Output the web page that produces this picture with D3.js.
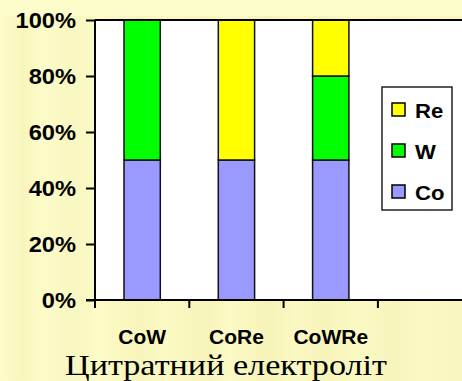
<!DOCTYPE html>
<html>
<head>
<meta charset="utf-8">
<script src="https://cdn.jsdelivr.net/npm/d3@7"></script>
<style>
  html, body { margin: 0; padding: 0; background: #fcfac4; }
  svg { display: block; }
</style>
</head>
<body>
<script>
// Composition of deposited alloys (atomic share, %)
const categories = ["CoW", "CoRe", "CoWRe"];
const elements = ["Co", "W", "Re"];
const coValues = [50, 50, 50];
const wValues = [50, 0, 30];
const reValues = [0, 50, 20];
const yTicks = [0, 20, 40, 60, 80, 100];
const groupLabel = "Цитратний електроліт";
const colors = { Co: "#9999ff", W: "#00ff00", Re: "#ffff00" };

const W = 462, H = 381;
const margin = { left: 95, top: 20, bottom: 300 };
const bandStep = 94.3;
const sansBold = "'Liberation Sans', Arial, sans-serif";

const svg = d3.select("body").append("svg")
  .attr("width", W).attr("height", H);

// textured pale-yellow backdrop with faint vertical streaks
const defs = svg.append("defs");
const grad = defs.append("linearGradient").attr("id", "bgStreaks")
  .attr("x1", 0).attr("x2", 1).attr("y1", 0).attr("y2", 0);
const streakStops = [
  [0, "#fdfbc8"], [0.05, "#f8f6bd"], [0.09, "#fdfbc8"], [0.16, "#f9f7c0"],
  [0.22, "#fdfbc6"], [0.3, "#f7f5bb"], [0.36, "#fcfac3"], [0.45, "#f6f4ba"],
  [0.5, "#fcfac5"], [0.58, "#f5f3b8"], [0.64, "#fbf9c2"], [0.7, "#f6f4b9"],
  [0.78, "#fcfac4"], [0.85, "#f7f5bc"], [0.92, "#fbf9c3"], [1, "#f8f6be"]
];
streakStops.forEach(([o, c]) => grad.append("stop").attr("offset", o).attr("stop-color", c));
svg.append("rect").attr("width", W).attr("height", H).attr("fill", "url(#bgStreaks)");
svg.append("rect").attr("width", W).attr("height", 16).attr("fill", "#fdfccb");

const x = d3.scaleBand()
  .domain(categories)
  .range([margin.left, margin.left + bandStep * categories.length])
  .padding(0);
const y = d3.scaleLinear().domain([0, 100]).range([margin.bottom, margin.top]);

// plot area
svg.append("rect")
  .attr("x", margin.left).attr("y", margin.top)
  .attr("width", W - margin.left + 5).attr("height", margin.bottom - margin.top)
  .attr("fill", "#ffffff");

// stacked bars
const rows = categories.map((c, i) => ({ cat: c, Co: coValues[i], W: wValues[i], Re: reValues[i] }));
const stacked = d3.stack().keys(elements)(rows);
const barW = x.bandwidth() * 0.385;

svg.append("g").selectAll("g").data(stacked).join("g")
  .attr("fill", d => colors[d.key])
  .selectAll("rect").data(d => d.filter(s => s[1] - s[0] > 0)).join("rect")
  .attr("x", d => x(d.data.cat) + (x.bandwidth() - barW) / 2)
  .attr("y", d => y(d[1]))
  .attr("width", barW)
  .attr("height", d => y(d[0]) - y(d[1]))
  .attr("stroke", "#111")
  .attr("stroke-width", 1.5);

// plot frame (top edge)
svg.append("line")
  .attr("x1", margin.left).attr("x2", W + 5)
  .attr("y1", margin.top).attr("y2", margin.top)
  .attr("stroke", "#000").attr("stroke-width", 2);

// y axis
const yAxis = d3.axisLeft(y).tickValues(yTicks).tickFormat(d => d + "%").tickSize(9).tickPadding(9);
const gy = svg.append("g").attr("transform", `translate(${margin.left},0)`).call(yAxis);
gy.select(".domain").attr("stroke-width", 2).attr("d", `M0,${margin.top}V${margin.bottom + 8}`);
gy.selectAll(".tick line").attr("stroke-width", 2);
gy.selectAll("text")
  .attr("font-family", sansBold)
  .attr("font-weight", "bold").attr("font-size", 21.5).attr("fill", "#000")
  .attr("x", 0)
  .attr("dy", "0.36em")
  .attr("transform", "translate(-19,0) scale(1.1,1)");

// x axis: ticks sit on category boundaries
const bounds = d3.range(categories.length + 2).map(i => margin.left + i * bandStep);
const gx = svg.append("g");
gx.append("line")
  .attr("x1", margin.left - 9).attr("x2", W + 5)
  .attr("y1", margin.bottom).attr("y2", margin.bottom)
  .attr("stroke", "#000").attr("stroke-width", 2);
gx.selectAll("line.tick").data(bounds).join("line").attr("class", "tick")
  .attr("x1", d => d).attr("x2", d => d)
  .attr("y1", margin.bottom).attr("y2", margin.bottom + 8)
  .attr("stroke", "#000").attr("stroke-width", 2);
gx.selectAll("text").data(categories).join("text")
  .attr("transform", d => `translate(${x(d) + x.bandwidth() / 2},344) scale(1.05,1)`)
  .attr("text-anchor", "middle")
  .attr("font-family", sansBold)
  .attr("font-weight", "bold").attr("font-size", 20)
  .text(d => d);

// group caption
svg.append("text")
  .attr("x", 65).attr("y", 375)
  .attr("font-family", "'Liberation Serif', 'Times New Roman', serif")
  .attr("font-size", 30)
  .attr("textLength", 322).attr("lengthAdjust", "spacingAndGlyphs")
  .text(groupLabel);

// legend
const legendKeys = elements.slice().reverse();
const lg = svg.append("g");
lg.append("rect")
  .attr("x", 382).attr("y", 87).attr("width", 70).attr("height", 123)
  .attr("fill", "#fff").attr("stroke", "#222").attr("stroke-width", 1.5);
const items = lg.selectAll("g.item").data(legendKeys).join("g").attr("class", "item")
  .attr("transform", (d, i) => `translate(392,${103 + i * 41})`);
items.append("rect")
  .attr("width", 13).attr("height", 13)
  .attr("fill", d => colors[d]).attr("stroke", "#000").attr("stroke-width", 1.5);
items.append("text")
  .attr("transform", "translate(23,15) scale(1.08,1)")
  .attr("font-family", sansBold)
  .attr("font-weight", "bold").attr("font-size", 20.5)
  .text(d => d);
</script>
</body>
</html>
